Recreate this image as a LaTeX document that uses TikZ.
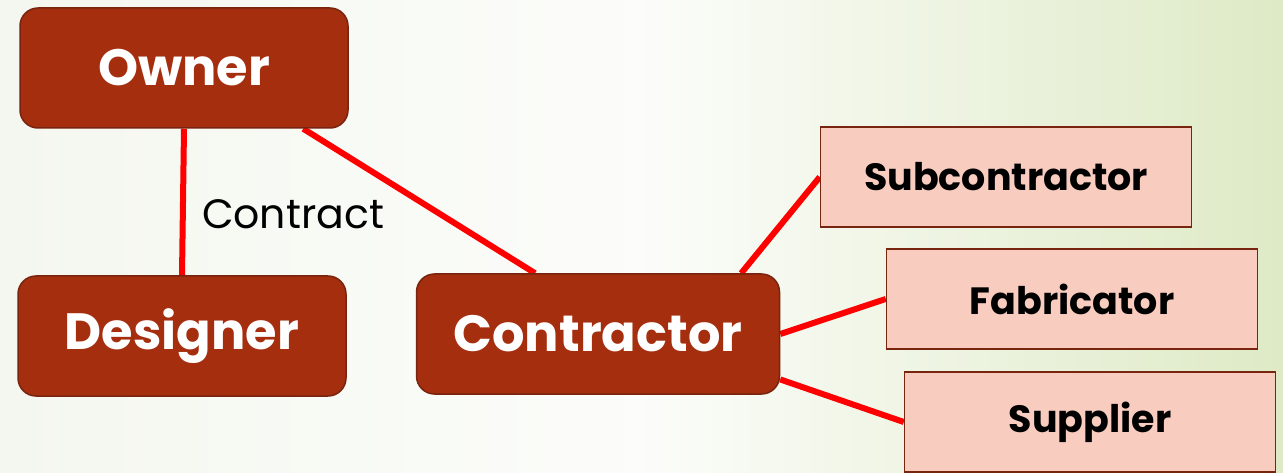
\documentclass[tikz,border=0pt]{standalone}
\usepackage{fontspec}
\setmainfont{Poppins}
\usetikzlibrary{backgrounds}
\definecolor{bgleft}{RGB}{244,247,239}
\definecolor{bgright}{RGB}{222,234,198}
\definecolor{partyfill}{RGB}{165,46,15}
\definecolor{partyline}{RGB}{120,36,14}
\definecolor{tradefill}{RGB}{249,204,192}
\definecolor{linkred}{RGB}{255,0,0}
\begin{document}
\begin{tikzpicture}[x=1pt, y=-1pt,
  party/.style={draw=partyline, line width=1.5pt, fill=partyfill, rounded corners=18pt,
    text=white, font=\fontsize{51}{58}\selectfont\bfseries, minimum height=120pt, inner sep=0pt},
  trade/.style={draw=partyline, line width=1.5pt, fill=tradefill, text=black,
    font=\fontsize{38}{44}\selectfont\bfseries, minimum width=371pt, minimum height=100pt, inner sep=0pt},
  link/.style={draw=linkred, line width=6pt}]
\useasboundingbox (0,0) rectangle (1283,473);
% parties
\node[party, minimum width=328pt] (owner) at (184,68) {Owner};
\node[party, minimum width=328pt] (designer) at (182,336) {Designer};
\node[party, minimum width=363pt] (contractor) at (598,334) {Contractor};
% trades
\node[trade] (subcontractor) at (1006,177) {Subcontractor};
\node[trade] (fabricator) at (1072,299) {Fabricator};
\node[trade] (supplier) at (1090,422) {Supplier};
\node[font=\fontsize{41}{48}\selectfont] (contract) at (293,214) {Contract};
% links
\begin{scope}[on background layer]
\shade[left color=bgleft, right color=bgright, middle color=white!70!bgleft] (0,0) rectangle (1283,473);
\draw[link] (owner.south) -- (designer.north);
\draw[link] (owner.-27) -- (contractor.136);
\draw[link] (contractor.23) -- (subcontractor.west);
\draw[link] (contractor.east) -- (fabricator.west);
\draw[link] (contractor.-14) -- (supplier.west);
\end{scope}
\end{tikzpicture}
\end{document}
